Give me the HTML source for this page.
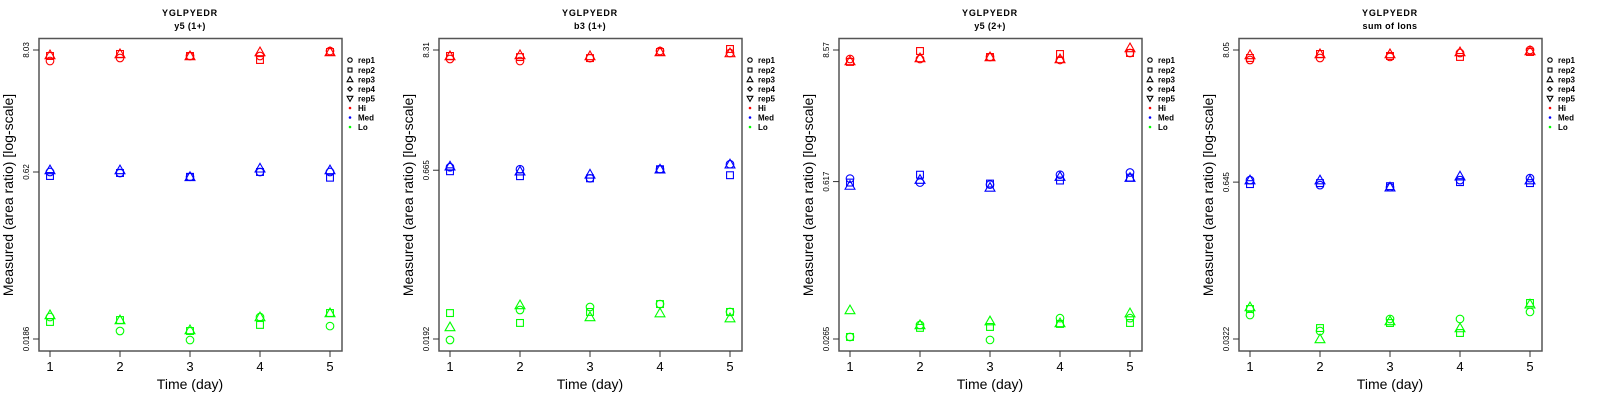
<!DOCTYPE html>
<html><head><meta charset="utf-8"><style>
body{margin:0;background:#fff}
svg{display:block;font-family:"Liberation Sans",sans-serif}
</style></head><body>
<svg id="c" width="1600" height="400"></svg>
<script>
const days = [1,2,3,4,5];
const panelSubtitles = ["y5 (1+)","b3 (1+)","y5 (2+)","sum of Ions"];
const tickTop = [8.03, 8.31, 8.57, 8.05];
const tickMid = [0.62, 0.665, 0.617, 0.645];
const tickBot = [0.0186, 0.0192, 0.0265, 0.0322];
const tickTopLabel = ["8.03","8.31","8.57","8.05"];
const tickMidLabel = ["0.62","0.665","0.617","0.645"];
const tickBotLabel = ["0.0186","0.0192","0.0265","0.0322"];
// values per panel: [group][rep][day]
const p1Hi = [[6.37,6.79,7.08,7.08,7.86],[7.08,7.39,7.08,6.51,7.70],[7.23,7.39,7.08,7.70,7.70]];
const p1Med = [[0.62,0.607,0.56,0.62,0.62],[0.57,0.607,0.56,0.62,0.55],[0.646,0.646,0.56,0.67,0.646]];
const p1Lo = [[0.0295,0.022,0.0182,0.0295,0.0244],[0.0266,0.0277,0.022,0.025,0.0321],[0.0308,0.0277,0.0225,0.0295,0.0321]];
const p2Hi = [[6.88,6.59,7.01,8.14,7.80],[7.33,7.16,7.01,7.97,8.49],[7.33,7.49,7.33,7.97,7.80]];
const p2Med = [[0.708,0.679,0.561,0.679,0.755],[0.651,0.587,0.561,0.679,0.599],[0.723,0.651,0.61,0.679,0.755]];
const p2Lo = [[0.0188,0.0353,0.0376,0.04,0.0339],[0.0331,0.0269,0.0339,0.04,0.0339],[0.0247,0.0392,0.0305,0.0331,0.0298]];
const p3Hi = [[7.16,7.16,7.45,7.02,8.07],[6.75,8.40,7.45,7.91,8.07],[6.88,7.30,7.45,7.16,8.92]];
const p3Med = [[0.655,0.605,0.581,0.708,0.740],[0.605,0.708,0.593,0.63,0.668],[0.570,0.642,0.548,0.681,0.668]];
const p3Lo = [[0.0276,0.0351,0.026,0.0402,0.0402],[0.0276,0.0331,0.0337,0.0358,0.0365],[0.0473,0.0351,0.0379,0.0365,0.0445]];
const p4Hi = [[6.65,6.91,7.05,7.60,8.05],[6.91,7.46,7.18,7.05,7.75],[7.32,7.46,7.46,7.75,7.9]];
const p4Med = [[0.67,0.609,0.585,0.67,0.696],[0.621,0.633,0.597,0.645,0.633],[0.67,0.67,0.585,0.722,0.67]];
const p4Lo = [[0.0509,0.0375,0.0472,0.0472,0.054],[0.0571,0.0397,0.0437,0.0361,0.0641],[0.0593,0.0322,0.0454,0.0397,0.0626]];
const panels = [[p1Hi,p1Med,p1Lo],[p2Hi,p2Med,p2Lo],[p3Hi,p3Med,p3Lo],[p4Hi,p4Med,p4Lo]];
const groupColors = ["#ff0000","#0000ff","#00ff00"];
const groupNames = ["hi","med","lo"];
const legendLabels = ["rep1","rep2","rep3","rep4","rep5","Hi","Med","Lo"];

const NS="http://www.w3.org/2000/svg";
const svg=document.getElementById('c');
function mk(tag,attrs,parent,text){const e=document.createElementNS(NS,tag);for(const k in attrs)e.setAttribute(k,attrs[k]);if(text!==undefined)e.textContent=text;parent.appendChild(e);return e;}

function marker(g,shape,cx,cy,col,r){
  let e;
  if(shape===0){e=mk('circle',{cx:cx,cy:cy,r:r,fill:'none',stroke:col,'stroke-width':1.1},g);}
  else if(shape===1){e=mk('rect',{x:cx-r*0.9,y:cy-r*0.9,width:r*1.8,height:r*1.8,fill:'none',stroke:col,'stroke-width':1.1},g);}
  else if(shape===2){const h=r*1.3;e=mk('polygon',{points:`${cx},${cy-h} ${cx+h},${cy+h*0.75} ${cx-h},${cy+h*0.75}`,fill:'none',stroke:col,'stroke-width':1.1},g);}
  else if(shape===3){e=mk('polygon',{points:`${cx},${cy-r} ${cx+r},${cy} ${cx},${cy+r} ${cx-r},${cy}`,fill:'none',stroke:col,'stroke-width':1.1},g);}
  else {const h=r*1.3;e=mk('polygon',{points:`${cx},${cy+h} ${cx+h},${cy-h*0.75} ${cx-h},${cy-h*0.75}`,fill:'none',stroke:col,'stroke-width':1.1},g);}
  return e;
}

for(let p=0;p<4;p++){
  const ox=p*400;
  const g=mk('g',{transform:`translate(${ox},0)`},svg);
  
  
  const xs=d=>50+(d-1)*70;
  const lt=Math.log(tickTop[p]), lb=Math.log(tickBot[p]);
  const ys=v=>50+(lt-Math.log(v))/(lt-lb)*289;

  const t1=mk('text',{x:190,y:16,'text-anchor':'middle','font-size':9,'font-weight':'bold','letter-spacing':'0.8'},g,'YGLPYEDR');
  
  
  const t2=mk('text',{x:190,y:29,'text-anchor':'middle','font-size':9,'font-weight':'bold','letter-spacing':'0.4'},g,panelSubtitles[p]);
  
  

  const fr=mk('rect',{x:39,y:38.5,width:303,height:312.5,fill:'none',stroke:'#555','stroke-width':1.5},g);
  
  

  days.forEach(d=>{
    mk('line',{x1:xs(d),x2:xs(d),y1:351,y2:357,stroke:'#333','stroke-width':1},g);
    const tl=mk('text',{x:xs(d),y:371,'text-anchor':'middle','font-size':13},g,String(d));
    
    
  });
  const yt=[[tickTop[p],tickTopLabel[p]],[tickMid[p],tickMidLabel[p]],[tickBot[p],tickBotLabel[p]]];
  yt.forEach(([v,l])=>{
    const y=ys(v);
    mk('line',{x1:33,x2:39,y1:y,y2:y,stroke:'#333','stroke-width':1},g);
    const tl=mk('text',{x:29,y:y,'text-anchor':'middle','font-size':8,transform:`rotate(-90 29 ${y})`},g,l);
    
    
  });
  const xt=mk('text',{x:190,y:389,'text-anchor':'middle','font-size':14},g,'Time (day)');
  
  
  const ytt=mk('text',{x:13,y:195,'text-anchor':'middle','font-size':14,transform:'rotate(-90 13 195)'},g,'Measured (area ratio) [log-scale]');
  
  

  panels[p].forEach((grp,gi)=>{
    grp.forEach((vals,ri)=>{
      vals.forEach((v,di)=>{
        const m=marker(g,ri,xs(days[di]),ys(v),groupColors[gi],3.8);
        
        
      });
    });
  });

  const lg=mk('g',{},g);
  
  
  const ly=[60,70,79.5,89,98.5,108,117.5,127];
  legendLabels.forEach((l,i)=>{
    if(i<5){marker(lg,i,350,ly[i],'#000',2.2);}
    else{mk('circle',{cx:350,cy:ly[i],r:1.3,fill:groupColors[i-5]},lg);}
    const lt2=mk('text',{x:358,y:ly[i]+3,'font-size':8,'font-weight':'bold'},lg,l);
    
    
  });
}
</script>
</body></html>
